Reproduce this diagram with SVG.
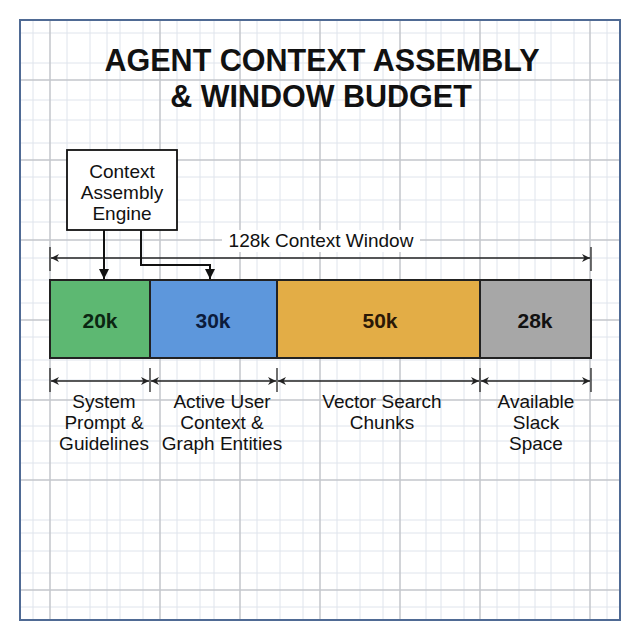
<svg xmlns="http://www.w3.org/2000/svg" width="640" height="640" viewBox="0 0 640 640">
<defs>
<style>
.minor{stroke:#dfe4ec;stroke-width:1}
.major{stroke:#c3c6cc;stroke-width:1.5}
.t{font-family:"Liberation Sans",Arial,sans-serif;fill:#111}
.lbl{font-size:19px;text-anchor:middle}
.big{font-size:21px;font-weight:bold;text-anchor:middle}
.seg{stroke:#222;stroke-width:2}
.dim{stroke:#222;stroke-width:1.3;fill:none}
.tick{stroke:#222;stroke-width:1.3}
.conn{stroke:#111;stroke-width:2;fill:none}
</style>
<marker id="ah" viewBox="0 0 10 10" refX="10" refY="5" markerWidth="10" markerHeight="10" markerUnits="userSpaceOnUse" orient="auto">
<path d="M0,0 L10,5 L0,10 z" fill="#111"/>
</marker>
<marker id="dh" viewBox="0 0 10 10" refX="10" refY="5" markerWidth="9" markerHeight="8" markerUnits="userSpaceOnUse" orient="auto-start-reverse">
<path d="M0,0 L10,5 L0,10 L3,5 z" fill="#222"/>
</marker>
</defs>
<rect width="640" height="640" fill="#fff"/>
<rect x="20" y="20" width="600" height="600" fill="#fff"/>
<g id="grid">
<g class="minor">
<path d="M33,20V620M67,20V620M90,20V620M107,20V620M120,20V620M143,20V620M177,20V620M200,20V620M214,20V620M257,20V620M280,20V620M303,20V620M337,20V620M360,20V620M383,20V620M426,20V620M441,20V620M464,20V620M497,20V620M519,20V620M535,20V620M551,20V620M574,20V620M607,20V620"/>
<path d="M20,33H620M20,63H620M20,100H620M20,120H620M20,143H620M20,177H620M20,200H620M20,222H620M20,258H620M20,280H620M20,303H620M20,337H620M20,360H620M20,380H620M20,426H620M20,441H620M20,463H620M20,520H620M20,533H620M20,551H620M20,573H620M20,607H620"/>
</g>
<g class="major">
<path d="M50,20V620M160,20V620M240,20V620M320,20V620M400,20V620M480,20V620M590,20V620"/>
<path d="M20,80H620M20,160H620M20,240H620M20,320H620M20,400H620M20,480H620M20,590H620"/>
</g>
</g>
<rect x="20" y="20" width="600" height="600" fill="none" stroke="#4f6a94" stroke-width="2"/>
<g id="title">
<text class="t" x="322" y="71" font-size="30.5" font-weight="bold" text-anchor="middle">AGENT CONTEXT ASSEMBLY</text>
<text class="t" x="321" y="107" font-size="30.5" font-weight="bold" text-anchor="middle">&amp; WINDOW BUDGET</text>
</g>
<g id="engine">
<rect x="67" y="150" width="110" height="80" fill="#fff" stroke="#111" stroke-width="1.8"/>
<text class="t lbl" x="122" y="178">Context</text>
<text class="t lbl" x="122" y="199">Assembly</text>
<text class="t lbl" x="122" y="220">Engine</text>
</g>
<g id="window-dimension">
<rect x="222" y="230" width="198" height="22" fill="#fff"/>
<text class="t lbl" x="321" y="247">128k Context Window</text>
<line class="tick" x1="50" y1="247" x2="50" y2="271"/>
<line class="tick" x1="591" y1="247" x2="591" y2="271"/>
<line class="dim" x1="51" y1="258" x2="590" y2="258" marker-start="url(#dh)" marker-end="url(#dh)"/>
</g>
<g id="seg-system">
<rect class="seg" x="50" y="280" width="100" height="78" fill="#5db872"/>
<text class="t big" x="100" y="328" style="fill:#0b2612">20k</text>
</g>
<g id="seg-user">
<rect class="seg" x="150" y="280" width="127" height="78" fill="#5d97dc"/>
<text class="t big" x="213" y="328" style="fill:#0c1c3c">30k</text>
</g>
<g id="seg-vector">
<rect class="seg" x="277" y="280" width="203" height="78" fill="#e3ad46"/>
<text class="t big" x="380" y="328" style="fill:#2a1806">50k</text>
</g>
<g id="seg-slack">
<rect class="seg" x="480" y="280" width="111" height="78" fill="#a7a7a7"/>
<text class="t big" x="535" y="328">28k</text>
</g>
<g id="segment-dimensions">
<line class="tick" x1="50" y1="368" x2="50" y2="392"/>
<line class="tick" x1="150" y1="368" x2="150" y2="392"/>
<line class="tick" x1="277" y1="368" x2="277" y2="392"/>
<line class="tick" x1="480" y1="368" x2="480" y2="392"/>
<line class="tick" x1="591" y1="368" x2="591" y2="392"/>
<line class="dim" x1="51" y1="381" x2="149" y2="381" marker-start="url(#dh)" marker-end="url(#dh)"/>
<line class="dim" x1="151" y1="381" x2="276" y2="381" marker-start="url(#dh)" marker-end="url(#dh)"/>
<line class="dim" x1="278" y1="381" x2="479" y2="381" marker-start="url(#dh)" marker-end="url(#dh)"/>
<line class="dim" x1="481" y1="381" x2="590" y2="381" marker-start="url(#dh)" marker-end="url(#dh)"/>
</g>
<g id="label-system">
<text class="t lbl" x="104" y="408">System</text>
<text class="t lbl" x="104" y="429">Prompt &amp;</text>
<text class="t lbl" x="104" y="450">Guidelines</text>
</g>
<g id="label-user">
<text class="t lbl" x="222" y="408">Active User</text>
<text class="t lbl" x="222" y="429">Context &amp;</text>
<text class="t lbl" x="222" y="450">Graph Entities</text>
</g>
<g id="label-vector">
<text class="t lbl" x="382" y="408">Vector Search</text>
<text class="t lbl" x="382" y="429">Chunks</text>
</g>
<g id="label-slack">
<text class="t lbl" x="536" y="408">Available</text>
<text class="t lbl" x="536" y="429">Slack</text>
<text class="t lbl" x="536" y="450">Space</text>
</g>
<g id="connectors">
<path class="conn" d="M104,230 V279" marker-end="url(#ah)"/>
<path class="conn" d="M141,230 V265 H210 V279" marker-end="url(#ah)"/>
</g>
</svg>
